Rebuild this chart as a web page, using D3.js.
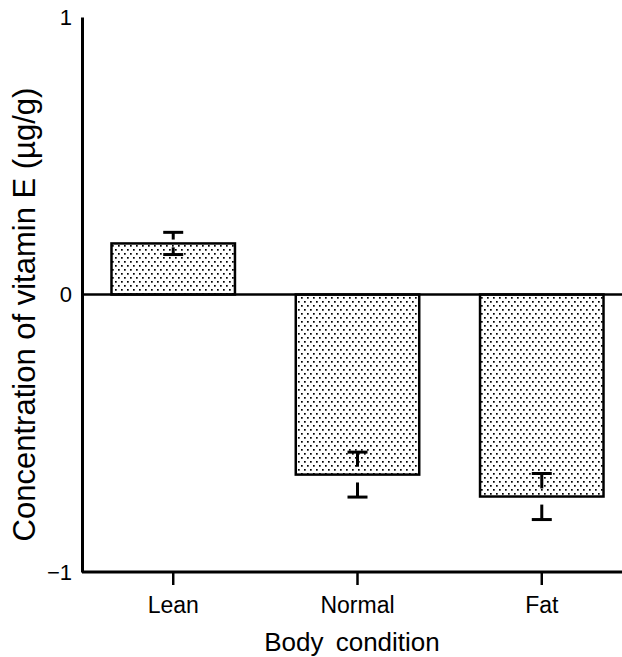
<!DOCTYPE html>
<html>
<head>
<meta charset="utf-8">
<script src="https://cdn.jsdelivr.net/npm/d3@7"></script>
<style>
  body { margin: 0; background: #fff; }
  text { font-family: "Liberation Sans", Arial, sans-serif; fill: #000; }
</style>
</head>
<body>
<svg id="chart"></svg>
<script>
// data
const categories = ['Lean', 'Normal', 'Fat'];
const means = [0.184, -0.649, -0.728];
const errors = [0.040, 0.081, 0.083];
const yTicks = [-1, 0, 1];

const width = 622, height = 657;
const margin = {top: 17, right: 0, bottom: 85, left: 82};

const svg = d3.select('#chart')
      .attr('width', width)
      .attr('height', height);

const data = categories.map((c, i) => ({c: c, m: means[i], e: errors[i]}));

const x = d3.scaleBand()
      .domain(categories)
      .range([margin.left, 633])
      .paddingInner(0.33)
      .paddingOuter(0.16);

const y = d3.scaleLinear()
      .domain([-1, 1])
      .range([height - margin.bottom, margin.top]);

// dotted fill
const defs = svg.append('defs');
const pat = defs.append('pattern')
      .attr('id', 'dots')
      .attr('patternUnits', 'userSpaceOnUse')
      .attr('width', 6)
      .attr('height', 8);
pat.append('rect').attr('width', 6).attr('height', 8).attr('fill', '#fff');
pat.append('rect').attr('x', 1).attr('y', 1).attr('width', 1.7).attr('height', 1.7).attr('fill', '#000');
pat.append('rect').attr('x', 4).attr('y', 5).attr('width', 1.7).attr('height', 1.7).attr('fill', '#000');

// bars
svg.append('g').selectAll('rect')
      .data(data)
      .enter()
      .append('rect')
      .attr('x', d => x(d.c))
      .attr('width', x.bandwidth())
      .attr('y', d => y(Math.max(0, d.m)))
      .attr('height', d => Math.abs(y(d.m) - y(0)))
      .attr('fill', 'url(#dots)')
      .attr('stroke', '#000')
      .attr('stroke-width', 2.5);

// zero line
svg.append('line')
      .attr('x1', margin.left).attr('x2', width)
      .attr('y1', y(0)).attr('y2', y(0))
      .attr('stroke', '#000')
      .attr('stroke-width', 2.5);

// error bars: short stems that point back toward the bar end
const capW = 20;
const eb = svg.append('g').attr('stroke', '#000').attr('stroke-width', 3);
data.forEach(d => {
      const cx = x(d.c) + x.bandwidth() / 2;
      [d.m + d.e, d.m - d.e].forEach(v => {
            const stem = (d.m - v) * 0.65;
            eb.append('line')
                  .attr('x1', cx - capW / 2).attr('x2', cx + capW / 2)
                  .attr('y1', y(v)).attr('y2', y(v));
            eb.append('line')
                  .attr('x1', cx).attr('x2', cx)
                  .attr('y1', y(v)).attr('y2', y(v + stem));
      });
});

// y axis
const yAxis = d3.axisLeft(y)
      .tickValues(yTicks)
      .tickFormat(d3.format('d'))
      .tickSize(0)
      .tickPadding(10);

const gy = svg.append('g')
      .attr('transform', `translate(${margin.left},0)`)
      .call(yAxis);
gy.select('.domain').attr('stroke-width', 3);
gy.selectAll('text').style('font-size', '22px');

// x axis at the bottom
const xAxis = d3.axisBottom(x)
      .tickSize(13)
      .tickSizeOuter(0)
      .tickPadding(12);

const gx = svg.append('g')
      .attr('transform', `translate(0,${y(-1)})`)
      .call(xAxis);
gx.select('.domain').attr('stroke-width', 3).attr('d', `M${margin.left},0H${width}`);
gx.selectAll('.tick line').attr('stroke-width', 2.5);
gx.selectAll('text').style('font-size', '23px');

// titles
svg.append('text')
      .attr('x', 352)
      .attr('y', 651)
      .attr('text-anchor', 'middle')
      .style('font-size', '26px')
      .style('word-spacing', '5px')
      .text('Body condition');

svg.append('text')
      .attr('transform', `translate(35,${(margin.top + y(-1)) / 2 + 20}) rotate(-90)`)
      .attr('text-anchor', 'middle')
      .style('font-size', '31px')
      .text('Concentration of vitamin E (\u00b5g/g)');
</script>
</body>
</html>
